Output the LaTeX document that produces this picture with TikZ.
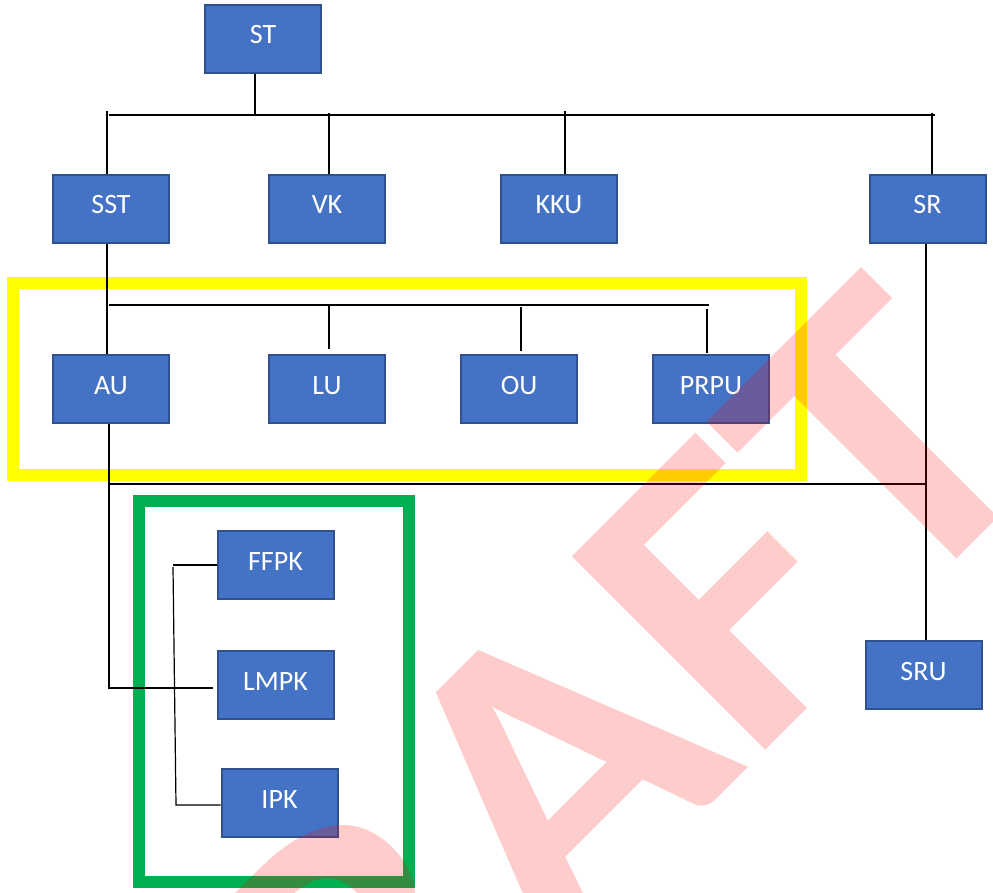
\documentclass[tikz,border=0pt]{standalone}
\usepackage{fontspec}
\setmainfont{Carlito}
\newfontfamily\wmfont{Carlito}
\definecolor{boxfill}{HTML}{4472C4}
\definecolor{boxline}{HTML}{2F528F}
\definecolor{frameyellow}{HTML}{FFFF00}
\definecolor{framegreen}{HTML}{00B050}
\definecolor{wired}{HTML}{FF0000}
\tikzset{
  orgbox/.style={draw=boxline, fill=boxfill, line width=2pt, minimum width=116pt, minimum height=68pt,
    inner sep=0pt, text=white, font=\fontsize{28}{28}\selectfont, text height=18pt, text depth=8pt},
  conn/.style={draw=black, line width=1.2pt},
  frame/.style={line width=12pt},
}
\begin{document}
\begin{tikzpicture}[x=1pt, y=-1pt]
\useasboundingbox (0,0) rectangle (993,893);
% frames
\draw[frame, draw=frameyellow] (13,283) rectangle (801,475);
\draw[frame, draw=framegreen] (139,501) rectangle (409,881.5);
% boxes
\node[orgbox] (ST)   at (263,39)    {ST};
\node[orgbox] (SST)  at (111,209)   {SST};
\node[orgbox] (VK)   at (327,209)   {VK};
\node[orgbox] (KKU)  at (559,209)   {KKU};
\node[orgbox] (SR)   at (927.5,209) {SR};
\node[orgbox] (AU)   at (111,389)   {AU};
\node[orgbox] (LU)   at (327,389)   {LU};
\node[orgbox] (OU)   at (519,389)   {OU};
\node[orgbox] (PRPU) at (711,389)   {PRPU};
\node[orgbox] (FFPK) at (275.5,565) {FFPK};
\node[orgbox] (LMPK) at (275.5,685) {LMPK};
\node[orgbox] (IPK)  at (279.5,803) {IPK};
\node[orgbox] (SRU)  at (923.5,675) {SRU};
% bus coordinates
\coordinate (stfoot) at (255,116);
\coordinate (b1w) at (109,115);
\coordinate (b1e) at (935,115);
\coordinate (dSST) at (107,111);
\coordinate (dVK) at (329,113);
\coordinate (dKKU) at (565,111);
\coordinate (dSR) at (932,113);
\coordinate (b2w) at (109,305);
\coordinate (b2e) at (709,305);
\coordinate (dLU) at (329,305);
\coordinate (dOU) at (521,307);
\coordinate (dPRPU) at (707,309);
\coordinate (aux) at (109,688);
\coordinate (b3w) at (109,484);
\coordinate (b3e) at (926,484);
\coordinate (srx) at (926,640);
\coordinate (brtop) at (173,567);
\coordinate (brbot) at (176,805);
% level 1
\draw[conn] (stfoot |- ST.south) -- (stfoot);
\draw[conn] (b1w) -- (b1e);
\draw[conn] (dSST) -- (dSST |- SST.north);
\draw[conn] (dVK) -- (dVK |- VK.north);
\draw[conn] (dKKU) -- (dKKU |- KKU.north);
\draw[conn] (dSR) -- (dSR |- SR.north);
% level 2
\draw[conn] (dSST |- SST.south) -- (dSST |- AU.north);
\draw[conn] (b2w) -- (b2e);
\draw[conn] (dLU) -- ([yshift=5pt]dLU |- LU.north);
\draw[conn] (dOU) -- ([yshift=3pt]dOU |- OU.north);
\draw[conn] (dPRPU) -- ([yshift=1pt]dPRPU |- PRPU.north);
% level 3
\draw[conn] (aux |- AU.south) -- (aux) -- ([xshift=-4pt]LMPK.west |- aux);
\draw[conn] (b3w) -- (b3e);
\draw[conn] (srx |- SR.south) -- (srx);
\draw[conn] (FFPK.west) -- (brtop |- FFPK.west);
\draw[conn] (brtop) -- (brbot) -- (IPK.west |- brbot);
% watermark
\node[rotate=45, xscale=1.086, anchor=base east, inner sep=0pt, text=wired, opacity=0.2,
      font=\wmfont\bfseries\fontsize{422}{422}\selectfont] (wm) at (1058,458) {DRAFT};
\end{tikzpicture}
\end{document}
